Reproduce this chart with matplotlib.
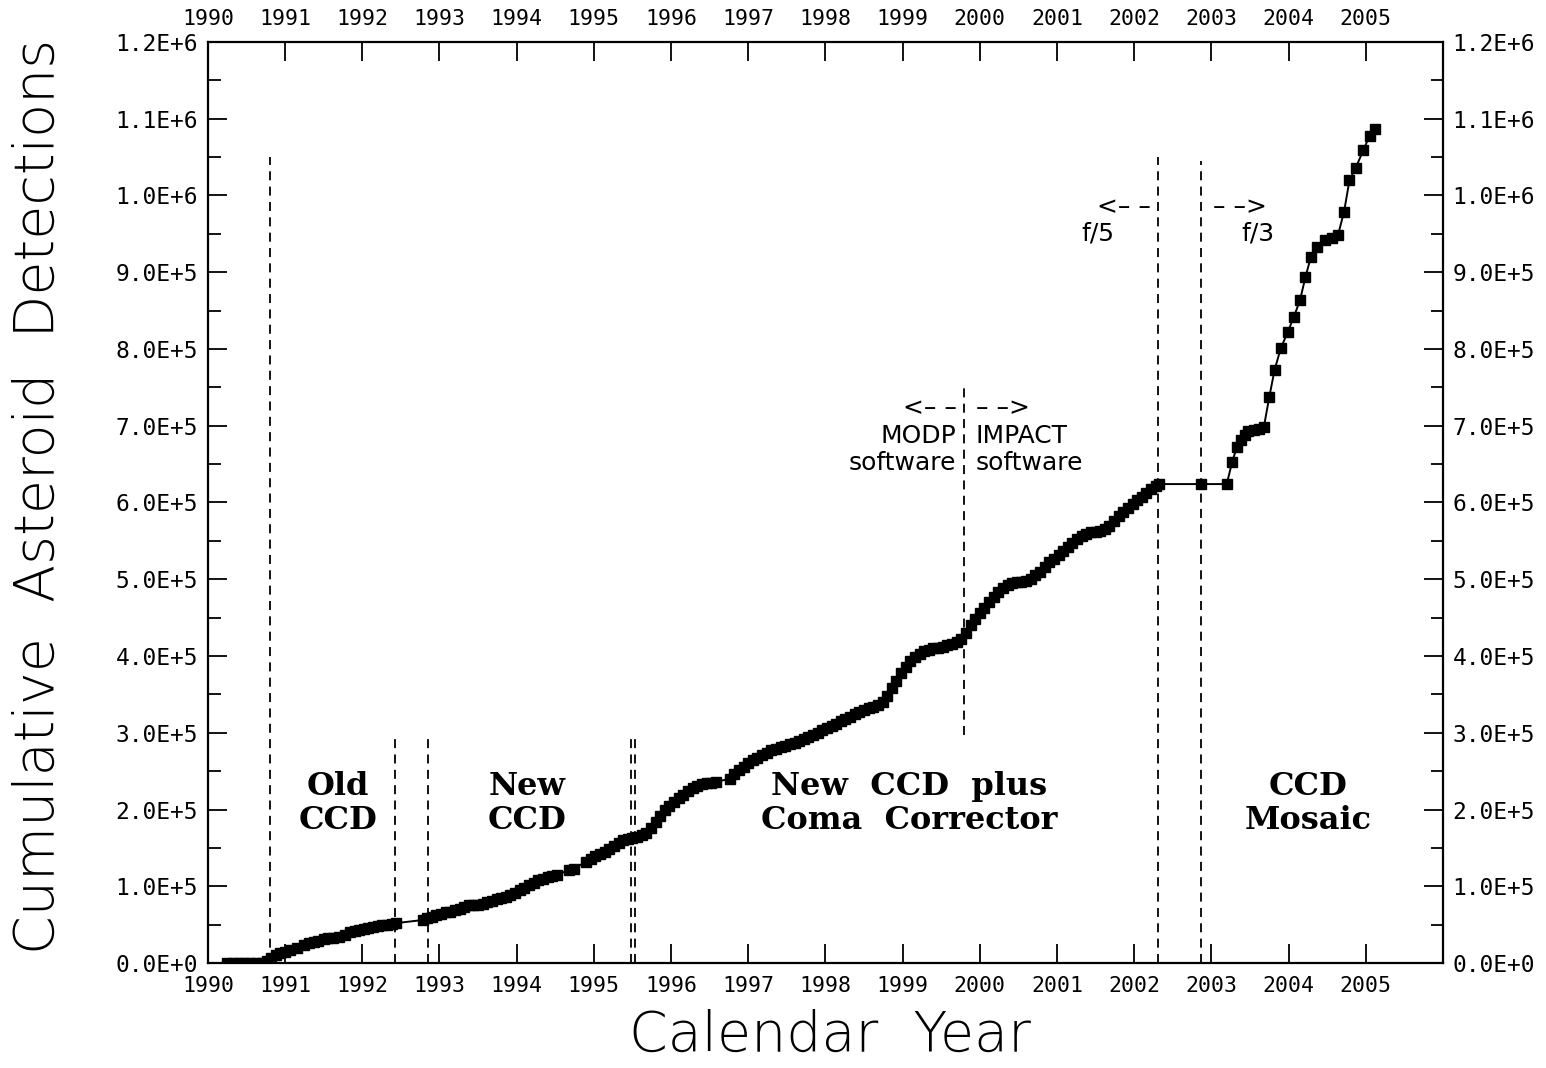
import matplotlib.pyplot as plt
from matplotlib.ticker import FixedLocator, FuncFormatter, MultipleLocator

# cumulative asteroid detections per observing run (thousands)
year = [1990.25, 1990.32, 1990.40, 1990.47, 1990.55, 1990.62, 1990.70, 1990.76, 1990.82, 1990.88,
        1990.94, 1991.00, 1991.06, 1991.16, 1991.25, 1991.31, 1991.37, 1991.43, 1991.50, 1991.56,
        1991.62, 1991.70, 1991.78, 1991.84, 1991.90, 1991.96, 1992.02, 1992.08, 1992.14, 1992.20,
        1992.26, 1992.32, 1992.38, 1992.44, 1992.78, 1992.84, 1992.90, 1992.96, 1993.02, 1993.08,
        1993.14, 1993.20, 1993.26, 1993.32, 1993.38, 1993.44, 1993.50, 1993.56, 1993.62, 1993.68,
        1993.74, 1993.80, 1993.86, 1993.92, 1993.98, 1994.04, 1994.10, 1994.16, 1994.22, 1994.28,
        1994.34, 1994.40, 1994.46, 1994.52, 1994.68, 1994.74, 1994.90, 1994.96, 1995.02, 1995.08,
        1995.14, 1995.20, 1995.26, 1995.32, 1995.38, 1995.44, 1995.50, 1995.56, 1995.62, 1995.68,
        1995.74, 1995.80, 1995.86, 1995.92, 1995.98, 1996.04, 1996.10, 1996.16, 1996.22, 1996.28,
        1996.34, 1996.40, 1996.46, 1996.52, 1996.58, 1996.76, 1996.82, 1996.88, 1996.94, 1997.00,
        1997.06, 1997.12, 1997.18, 1997.24, 1997.30, 1997.36, 1997.42, 1997.48, 1997.54, 1997.60,
        1997.66, 1997.72, 1997.78, 1997.84, 1997.90, 1997.96, 1998.02, 1998.08, 1998.14, 1998.20,
        1998.26, 1998.32, 1998.38, 1998.44, 1998.50, 1998.56, 1998.62, 1998.68, 1998.74, 1998.80,
        1998.86, 1998.92, 1998.98, 1999.04, 1999.10, 1999.16, 1999.22, 1999.28, 1999.34, 1999.40,
        1999.46, 1999.52, 1999.58, 1999.64, 1999.70, 1999.76, 1999.82, 1999.88, 1999.94, 2000.00,
        2000.06, 2000.12, 2000.18, 2000.24, 2000.30, 2000.36, 2000.42, 2000.48, 2000.54, 2000.60,
        2000.66, 2000.72, 2000.78, 2000.84, 2000.90, 2000.96, 2001.02, 2001.08, 2001.14, 2001.20,
        2001.26, 2001.32, 2001.38, 2001.44, 2001.50, 2001.56, 2001.62, 2001.68, 2001.74, 2001.80,
        2001.86, 2001.92, 2001.98, 2002.04, 2002.10, 2002.16, 2002.22, 2002.28, 2002.32, 2002.86,
        2003.20, 2003.27, 2003.33, 2003.38, 2003.43, 2003.48, 2003.55, 2003.62, 2003.68, 2003.75,
        2003.82, 2003.90, 2003.99, 2004.07, 2004.15, 2004.22, 2004.29, 2004.37, 2004.47, 2004.56,
        2004.64, 2004.72, 2004.79, 2004.87, 2004.97, 2005.05, 2005.12]
detections_k = [0, 0, 0, 0, 0, 0, 0.5, 2, 6, 11,
                13, 15, 17, 20, 23, 26, 28, 29, 31, 32,
                33, 34, 36, 40, 42, 43, 44, 45, 47, 48,
                49, 50, 51, 52, 56, 58, 60, 62, 64, 66,
                67, 69, 71, 73, 75, 75, 76, 77, 79, 81,
                83, 85, 86, 88, 91, 95, 98, 101, 104, 108,
                110, 112, 113, 115, 121, 123, 132, 136, 139, 142,
                145, 149, 153, 157, 160, 162, 163, 164, 167, 170,
                176, 184, 192, 199, 205, 210, 215, 219, 224, 228,
                231, 233, 234, 235, 236, 240, 246, 252, 256, 260,
                264, 267, 271, 274, 277, 279, 281, 283, 285, 287,
                289, 292, 295, 297, 300, 303, 306, 309, 312, 315,
                318, 321, 324, 327, 330, 332, 334, 336, 340, 348,
                358, 368, 378, 386, 393, 399, 403, 406, 408, 410,
                411, 412, 414, 416, 418, 422, 430, 440, 448, 456,
                463, 470, 477, 483, 488, 492, 495, 497, 497, 498,
                500, 505, 510, 516, 522, 527, 532, 537, 542, 547,
                552, 556, 559, 561, 562, 563, 566, 570, 576, 582,
                588, 593, 598, 603, 607, 612, 617, 622, 624, 624,
                624, 653, 672, 681, 688, 693, 695, 696, 698, 737,
                773, 801, 822, 842, 864, 894, 920, 933, 942, 945,
                948, 979, 1020, 1036, 1059, 1078, 1086]
detections = [v * 1000 for v in detections_k]

# instrument / software changes: (year, line bottom, line top)
breaks = [(1990.80, 0, 1.05e6), (1992.42, 0, 3.0e5), (1992.85, 0, 3.0e5),
          (1995.48, 0, 3.0e5), (1995.53, 0, 3.0e5), (1999.79, 2.97e5, 7.56e5),
          (2002.31, 0, 1.05e6), (2002.87, 0, 1.045e6)]

eras = ["Old\nCCD", "New\nCCD", "New  CCD  plus\nComa  Corrector", "CCD\nMosaic"]
era_x = [1991.68, 1994.14, 1999.08, 2004.25]

year_ticks = list(range(1990, 2006))

plt.rcParams['font.family'] = 'DejaVu Sans'
fig = plt.figure(figsize=(15.46, 10.68), dpi=100)
ax = fig.add_axes([0.1345, 0.0983, 0.7988, 0.8624])

ax.plot(year, detections, color='black', lw=1.4, marker='s', markersize=7.2,
        markerfacecolor='black', markeredgecolor='black', zorder=3)

for bx, y0, y1 in breaks:
    ax.plot([bx, bx], [y0, y1], color='black', lw=1.3, linestyle=(0, (5, 3.5)), zorder=2)

bold_font = dict(family='DejaVu Serif', fontweight='bold', fontsize=23)
for label, ex in zip(eras, era_x):
    ax.text(ex, 2.08e5, label, ha='center', va='center', linespacing=1.1, **bold_font)

small_font = dict(family='DejaVu Sans', fontsize=18)
ax.text(1999.70, 7.23e5, "<\u2013 \u2013", ha='right', va='center', **small_font)
ax.text(1999.70, 6.87e5, "MODP", ha='right', va='center', **small_font)
ax.text(1999.70, 6.51e5, "software", ha='right', va='center', **small_font)
ax.text(1999.95, 7.23e5, "\u2013 \u2013>", ha='left', va='center', **small_font)
ax.text(1999.95, 6.87e5, "IMPACT", ha='left', va='center', **small_font)
ax.text(1999.95, 6.51e5, "software", ha='left', va='center', **small_font)

ax.text(2002.22, 9.85e5, "<\u2013 \u2013", ha='right', va='center', **small_font)
ax.text(2001.53, 9.51e5, "f/5", ha='center', va='center', **small_font)
ax.text(2003.02, 9.85e5, "\u2013 \u2013>", ha='left', va='center', **small_font)
ax.text(2003.60, 9.51e5, "f/3", ha='center', va='center', **small_font)

ax.set_xlim(1990, 2006)
ax.set_ylim(0, 1.2e6)

ax.xaxis.set_major_locator(FixedLocator(year_ticks))
ax.xaxis.set_major_formatter(FuncFormatter(lambda v, p: f"{int(round(v))}"))
ax.yaxis.set_major_locator(MultipleLocator(1e5))
ax.yaxis.set_minor_locator(MultipleLocator(5e4))


def sci_label(v, pos):
    if v == 0:
        return "0.0E+0"
    s = f"{v:.1E}"
    mant, exp = s.split("E")
    return f"{mant}E+{int(exp)}"


ax.yaxis.set_major_formatter(FuncFormatter(sci_label))

ax.tick_params(axis='both', which='both', direction='in', top=True, right=True,
               labeltop=True, labelright=True, width=1.3, colors='black')
ax.tick_params(axis='x', which='major', length=14, pad=9, labelsize=15.5)
ax.tick_params(axis='y', which='major', length=14, pad=7, labelsize=16.5)
ax.tick_params(axis='y', which='minor', length=9)
for lab in ax.get_xticklabels() + ax.get_yticklabels():
    lab.set_family('DejaVu Sans Mono')

for sp in ax.spines.values():
    sp.set_linewidth(1.6)

fig.text(0.025, 0.535, "Cumulative  Asteroid  Detections", rotation=90, ha='center',
         va='center', fontsize=40, fontweight=200)
fig.text(0.537, 0.030, "Calendar  Year", ha='center', va='center', fontsize=40,
         fontweight=200)

fig.savefig('out.png', dpi=100)
